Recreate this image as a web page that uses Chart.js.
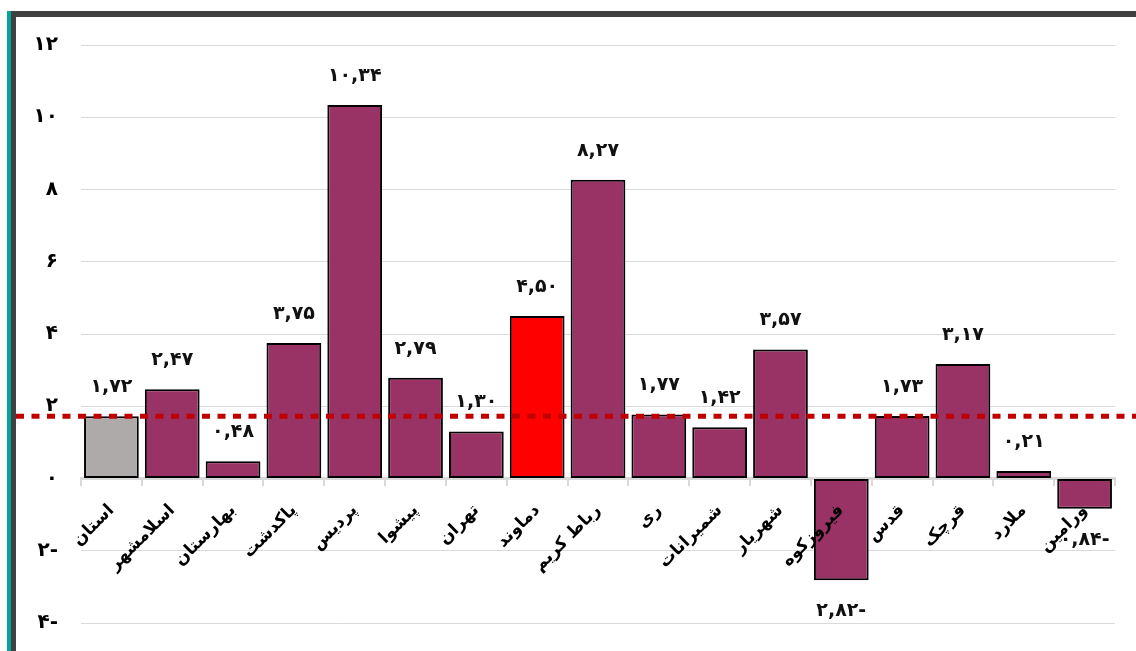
<!DOCTYPE html>
<html>
<head>
<meta charset="utf-8">
<script src="https://cdn.jsdelivr.net/npm/chart.js@4.4.1/dist/chart.umd.min.js"></script>
<style>
  body { margin: 0; background: #fff; width: 1136px; height: 651px; overflow: hidden; position: relative; }
  #teal { position: absolute; left: 7px; top: 11px; width: 4px; height: 640px; background: #00a59b; }
  #darkLeft { position: absolute; left: 11px; top: 11px; width: 5px; height: 640px; background: #404040; }
  #darkTop { position: absolute; left: 11px; top: 11px; width: 1125px; height: 6px; background: #404040; }
  #box { position: absolute; left: 16px; top: 17px; width: 1120px; height: 634px; }
</style>
</head>
<body>
<div id="teal"></div>
<div id="darkLeft"></div>
<div id="darkTop"></div>
<div id="box"><canvas id="myChart"></canvas></div>

<script>
// داده ها
var shahrestanha = ['استان', 'اسلامشهر', 'بهارستان', 'پاکدشت', 'پردیس', 'پیشوا', 'تهران', 'دماوند',
    'رباط کریم', 'ری', 'شمیرانات', 'شهریار', 'فیروزکوه', 'قدس', 'قرچک', 'ملارد', 'ورامین'];
var meghdarha = [1.72, 2.47, 0.48, 3.75, 10.34, 2.79, 1.30, 4.50, 8.27, 1.77, 1.42, 3.57, -2.82, 1.73, 3.17, 0.21, -0.84];
var miangin = 1.72;
var yTicks = [12, 10, 8, 6, 4, 2, 0, -2, -4];

function faNum(n, dec) {
    var s = Math.abs(n).toFixed(dec);
    var d = '۰۱۲۳۴۵۶۷۸۹';
    var out = '';
    for (var i = 0; i < s.length; i++) {
        var c = s[i];
        if (c === '.') out += ',';
        else out += d[parseInt(c)];
    }
    if (n < 0) out += '-';
    return out;
}

var rangha = [];
for (var i = 0; i < shahrestanha.length; i++) {
    if (i === 0) rangha.push('#aeaaaa');
    else if (shahrestanha[i] === 'دماوند') rangha.push('#ff0000');
    else rangha.push('#993366');
}

// برچسب مقادیر و خط میانگین
const barchasbPlugin = {
    id: 'barchasb',
    afterDatasetsDraw(chart) {
        const ctx = chart.ctx;
        const meta = chart.getDatasetMeta(0);
        ctx.save();
        ctx.font = 'bold 19px "DejaVu Sans"';
        ctx.letterSpacing = '2px';
        ctx.fillStyle = '#111';
        ctx.textAlign = 'center';
        ctx.textBaseline = 'middle';
        meta.data.forEach(function (bar, i) {
            var v = meghdarha[i];
            var y = v >= 0 ? bar.y - 29 : bar.y + 31;
            ctx.fillText(faNum(v, 2), bar.x, y);
        });
        // خط چین میانگین
        var yy = chart.scales.y.getPixelForValue(miangin);
        ctx.strokeStyle = '#c00000';
        ctx.lineWidth = 5;
        ctx.setLineDash([8, 7.5]);
        ctx.beginPath();
        ctx.moveTo(0, yy);
        ctx.lineTo(chart.width, yy);
        ctx.stroke();
        ctx.restore();
    }
};

const ctx = document.getElementById('myChart');

new Chart(ctx, {
    type: 'bar',
    data: {
        labels: shahrestanha,
        datasets: [{
            data: meghdarha,
            backgroundColor: rangha,
            borderColor: '#000',
            borderWidth: 2,
            borderSkipped: false,
            barPercentage: 0.9,
            categoryPercentage: 1
        }]
    },
    options: {
        responsive: true,
        maintainAspectRatio: false,
        animation: false,
        layout: { padding: { top: 28, bottom: 28, right: 21, left: 0 } },
        plugins: { legend: { display: false }, tooltip: { enabled: false } },
        scales: {
            x: {
                position: { y: 0 },
                afterFit: function (scale) {
                    scale.paddingTop = 0; scale.paddingBottom = 0;
                    scale.paddingLeft = 0; scale.paddingRight = 0;
                },
                grid: { drawOnChartArea: false, drawTicks: true, tickLength: 6, color: '#d9d9d9', lineWidth: 2 },
                border: { color: '#d9d9d9', width: 3 },
                ticks: {
                    z: 1,
                    color: '#000',
                    font: { family: 'DejaVu Sans', size: 17, weight: 'bold' },
                    minRotation: 45, maxRotation: 45,
                    autoSkip: false,
                    padding: 16
                }
            },
            y: {
                min: -4, max: 12,
                afterFit: function (scale) {
                    scale.width = 65;
                    scale.paddingTop = 0; scale.paddingBottom = 0;
                },
                afterBuildTicks: function (scale) {
                    scale.ticks = yTicks.map(function (v) { return { value: v }; });
                },
                grid: { color: '#d9d9d9', lineWidth: 1, drawTicks: false },
                border: { display: false },
                ticks: {
                    color: '#000',
                    padding: 23,
                    font: { family: 'DejaVu Sans', size: 20, weight: 'bold' },
                    callback: function (v) { return faNum(v, 0); }
                }
            }
        }
    },
    plugins: [barchasbPlugin]
});
</script>
</body>
</html>
